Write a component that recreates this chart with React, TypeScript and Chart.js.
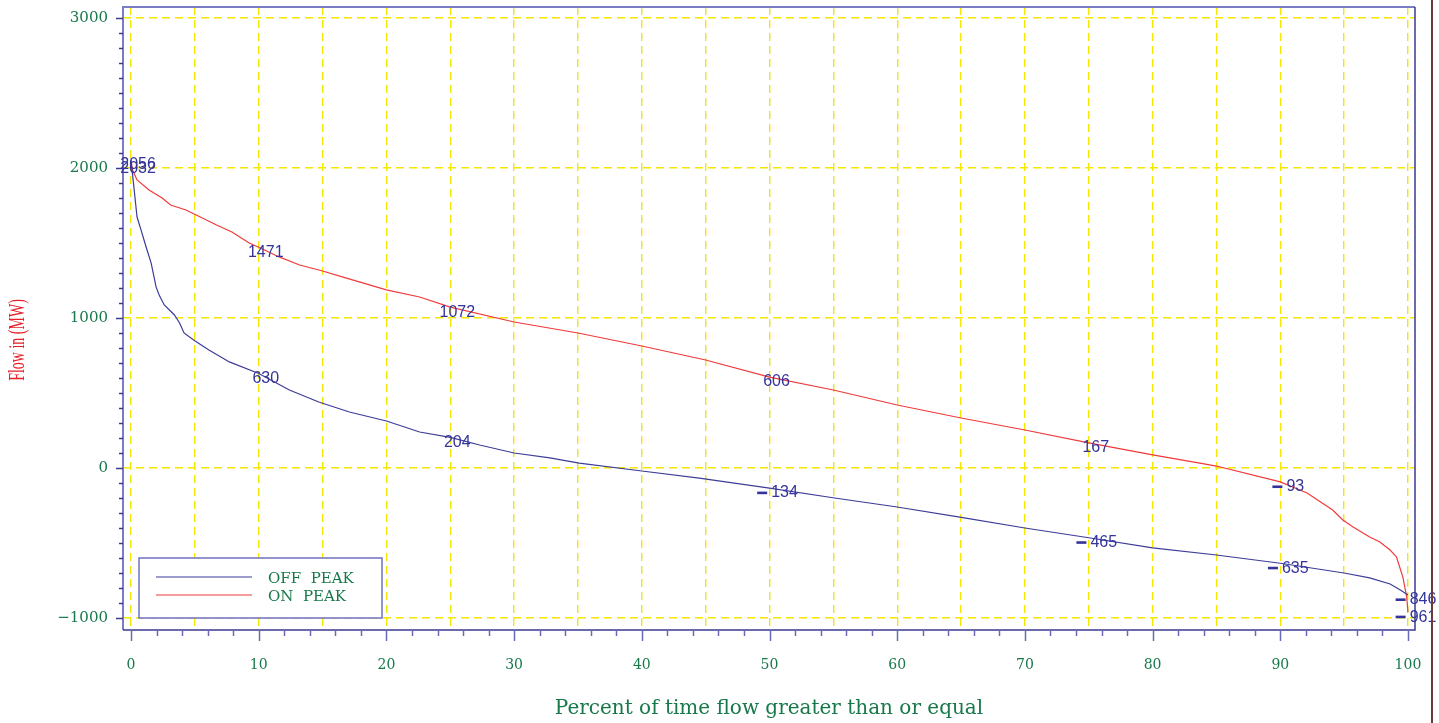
import { useEffect, useRef } from 'react';
import { Chart, registerables } from 'chart.js';

Chart.register(...registerables);

// ---- data ----
const offPeakPercent = [0, 0.08, 0.47, 0.78, 1.18, 1.57, 1.96, 2.2, 2.6, 3.4, 3.8, 4.15, 4.9, 6.1, 7.7, 10, 12.4, 14.7, 17.1, 20, 22.6, 25, 27.3, 30, 32.8, 35.1, 40, 44.5, 50, 55.1, 60, 64.9, 70, 75, 80, 85, 90, 95, 97, 98.6, 99.4, 100];
const offPeakFlow = [2032, 1987, 1673, 1587, 1473, 1367, 1207, 1153, 1087, 1020, 967, 900, 853, 787, 707, 630, 520, 440, 373, 313, 240, 204, 153, 100, 67, 33, -20, -67, -134, -200, -260, -327, -400, -465, -533, -580, -635, -700, -733, -773, -813, -846];

const onPeakPercent = [0, 0.1, 0.47, 1.41, 2.43, 3.1, 4.3, 5.1, 6.7, 7.9, 9.25, 10, 11.6, 13.2, 15, 16.8, 20, 22.6, 25, 30, 35, 40, 45, 50, 55, 60, 65, 70, 75, 80, 83.7, 85, 90, 92.1, 94.1, 94.9, 95.7, 97, 97.8, 98.6, 99.1, 99.6, 99.9, 100];
const onPeakFlow = [2056, 1990, 1920, 1853, 1800, 1753, 1720, 1687, 1620, 1573, 1500, 1471, 1407, 1353, 1313, 1267, 1187, 1140, 1072, 973, 900, 813, 720, 606, 520, 420, 333, 253, 167, 87, 33, 13, -93, -167, -280, -347, -393, -460, -493, -547, -593, -727, -860, -961];

const labelPercents = [0, 10, 25, 50, 75, 90, 100];
const seriesNames = ['OFF  PEAK', 'ON  PEAK'];
const xGridValues = [0, 5, 10, 15, 20, 25, 30, 35, 40, 45, 50, 55, 60, 65, 70, 75, 80, 85, 90, 95, 100];
const xMinorTicks = [0, 2, 4, 6, 8, 10, 12, 14, 16, 18, 20, 22, 24, 26, 28, 30, 32, 34, 36, 38, 40, 42, 44, 46, 48, 50, 52, 54, 56, 58, 60, 62, 64, 66, 68, 70, 72, 74, 76, 78, 80, 82, 84, 86, 88, 90, 92, 94, 96, 98, 100];
const yTickValues = [-1000, 0, 1000, 2000, 3000];
const xTitle = 'Percent of time flow greater than or equal';
const yTitle = 'Flow in (MW)';

const GREEN = '#17784a';
const NAVY = '#3a3a92';
const YELLOW = '#f6e600';
const OFF_COLOR = '#3c3c98';
const ON_COLOR = '#f03a3a';

const fmt = (v: number) => (v < 0 ? '\u2212' + Math.abs(v) : String(v));
const toPoints = (xs: number[], ys: number[]) => xs.map((x, i) => ({ x, y: ys[i] }));

const zeroPad = (s: any) => {
  s.paddingTop = 0;
  s.paddingBottom = 0;
  s.paddingLeft = 0;
  s.paddingRight = 0;
};

const decorPlugin = {
  id: 'decor',
  afterDraw(chart: any) {
    const { ctx, chartArea: a, scales } = chart;
    const xs = scales.x;
    const ys = scales.y;
    ctx.save();

    // frame
    ctx.lineWidth = 2;
    ctx.strokeStyle = '#7c7cc4';
    ctx.beginPath();
    ctx.moveTo(a.left, a.bottom);
    ctx.lineTo(a.left, a.top);
    ctx.lineTo(a.right, a.top);
    ctx.stroke();
    ctx.lineWidth = 1.5;
    ctx.strokeStyle = NAVY;
    ctx.beginPath();
    ctx.moveTo(a.right, a.top);
    ctx.lineTo(a.right, a.bottom);
    ctx.lineTo(a.left, a.bottom);
    ctx.stroke();

    // x tick marks
    ctx.lineWidth = 1.5;
    ctx.strokeStyle = '#6a6ab4';
    xMinorTicks.forEach((v) => {
      const px = Math.round(xs.getPixelForValue(v)) + 0.5;
      const len = v % 10 === 0 ? 11 : 6;
      ctx.beginPath();
      ctx.moveTo(px, a.bottom);
      ctx.lineTo(px, a.bottom + len);
      ctx.stroke();
    });
    // y tick marks
    ctx.strokeStyle = NAVY;
    for (let v = -1000; v <= 3000; v += 100) {
      const py = Math.round(ys.getPixelForValue(v)) + 0.5;
      const len = v % 1000 === 0 ? 7 : 4;
      ctx.beginPath();
      ctx.moveTo(a.left - len, py);
      ctx.lineTo(a.left, py);
      ctx.stroke();
    }

    // titles
    ctx.fillStyle = GREEN;
    ctx.font = '20px "DejaVu Serif"';
    ctx.textAlign = 'center';
    ctx.textBaseline = 'middle';
    ctx.fillText(xTitle, (a.left + a.right) / 2, 709);

    ctx.save();
    ctx.translate(18, 340);
    ctx.rotate(-Math.PI / 2);
    ctx.scale(1, 1.7);
    ctx.fillStyle = '#e8202a';
    ctx.font = '14px "Liberation Serif"';
    ctx.fillText(yTitle, 0, 0);
    ctx.restore();

    // legend
    const lx = a.left + 16;
    const ly = 558;
    const lw = 243;
    const lh = 60;
    ctx.fillStyle = '#ffffff';
    ctx.fillRect(lx, ly, lw, lh);
    ctx.strokeStyle = '#7070c0';
    ctx.lineWidth = 1.5;
    ctx.strokeRect(lx, ly, lw, lh);
    chart.data.datasets.forEach((ds: any, i: number) => {
      const yy = ly + 19 + i * 18;
      ctx.strokeStyle = ds.borderColor;
      ctx.lineWidth = 1.2;
      ctx.beginPath();
      ctx.moveTo(lx + 17, yy);
      ctx.lineTo(lx + 113, yy);
      ctx.stroke();
      ctx.fillStyle = GREEN;
      ctx.font = '15px "DejaVu Serif"';
      ctx.textAlign = 'left';
      ctx.textBaseline = 'middle';
      ctx.fillText(ds.label, lx + 129, yy + 2);
    });

    // data labels
    ctx.fillStyle = '#34349a';
    ctx.font = '16px "Liberation Sans"';
    ctx.textBaseline = 'middle';
    chart.data.datasets.forEach((ds: any) => {
      labelPercents.forEach((p) => {
        const pt = ds.data.find((d: any) => d.x === p);
        if (!pt) return;
        const px = xs.getPixelForValue(pt.x);
        const py = ys.getPixelForValue(pt.y);
        const digits = String(Math.abs(pt.y));
        const w = ctx.measureText(digits).width;
        if (pt.y < 0) {
          const total = w + 14;
          const left = px + 8 - total / 2;
          ctx.fillRect(left, py + 3.5, 10, 2.6);
          ctx.textAlign = 'left';
          ctx.fillText(digits, left + 14, py + 5);
        } else {
          ctx.textAlign = 'center';
          ctx.fillText(digits, px + 7, py + 5);
        }
      });
    });

    // right edge line
    ctx.strokeStyle = '#6b3b3b';
    ctx.lineWidth = 2;
    ctx.beginPath();
    ctx.moveTo(1432, 0);
    ctx.lineTo(1432, 723);
    ctx.stroke();

    ctx.restore();
  },
};

export default function App() {
  const ref = useRef<HTMLCanvasElement>(null);
  useEffect(() => {
    const chart = new Chart(ref.current as HTMLCanvasElement, {
      type: 'line',
      data: {
        datasets: [
          {
            label: seriesNames[0],
            data: toPoints(offPeakPercent, offPeakFlow),
            borderColor: OFF_COLOR,
            borderWidth: 1.2,
            pointRadius: 0,
            tension: 0,
          },
          {
            label: seriesNames[1],
            data: toPoints(onPeakPercent, onPeakFlow),
            borderColor: ON_COLOR,
            borderWidth: 1.2,
            pointRadius: 0,
            tension: 0,
          },
        ],
      },
      options: {
        responsive: false,
        animation: false,
        devicePixelRatio: 1,
        layout: { autoPadding: false, padding: { top: 7, right: 24, left: 0, bottom: 0 } },
        plugins: { legend: { display: false }, tooltip: { enabled: false } },
        scales: {
          x: {
            type: 'linear',
            min: -0.63,
            max: 100.55,
            afterBuildTicks: (s: any) => {
              s.ticks = xGridValues.map((v) => ({ value: v }));
            },
            afterFit: (s: any) => {
              s.height = 93;
              zeroPad(s);
            },
            ticks: {
              autoSkip: false,
              maxRotation: 0,
              minRotation: 0,
              padding: 27,
              color: GREEN,
              font: { family: 'DejaVu Serif', size: 14 },
              callback: (v: any) => (Number(v) % 10 === 0 ? String(v) : ''),
            },
            grid: { color: YELLOW, lineWidth: 1.4, drawTicks: false },
            border: { display: false, dash: [8, 5] },
          },
          y: {
            type: 'linear',
            min: -1080,
            max: 3073,
            afterBuildTicks: (s: any) => {
              s.ticks = yTickValues.map((v) => ({ value: v }));
            },
            afterFit: (s: any) => {
              s.width = 123;
              zeroPad(s);
            },
            ticks: {
              padding: 15,
              color: GREEN,
              font: { family: 'DejaVu Serif', size: 15 },
              callback: (v: any) => fmt(Number(v)),
            },
            grid: { color: YELLOW, lineWidth: 1.4, drawTicks: false },
            border: { display: false, dash: [8, 5] },
          },
        },
      },
      plugins: [decorPlugin],
    } as any);
    return () => chart.destroy();
  }, []);
  return (
    <div style={{ position: 'absolute', left: 0, top: 0, width: 1439, height: 723, background: '#ffffff' }}>
      <canvas ref={ref} width={1439} height={723} style={{ display: 'block' }} />
    </div>
  );
}
